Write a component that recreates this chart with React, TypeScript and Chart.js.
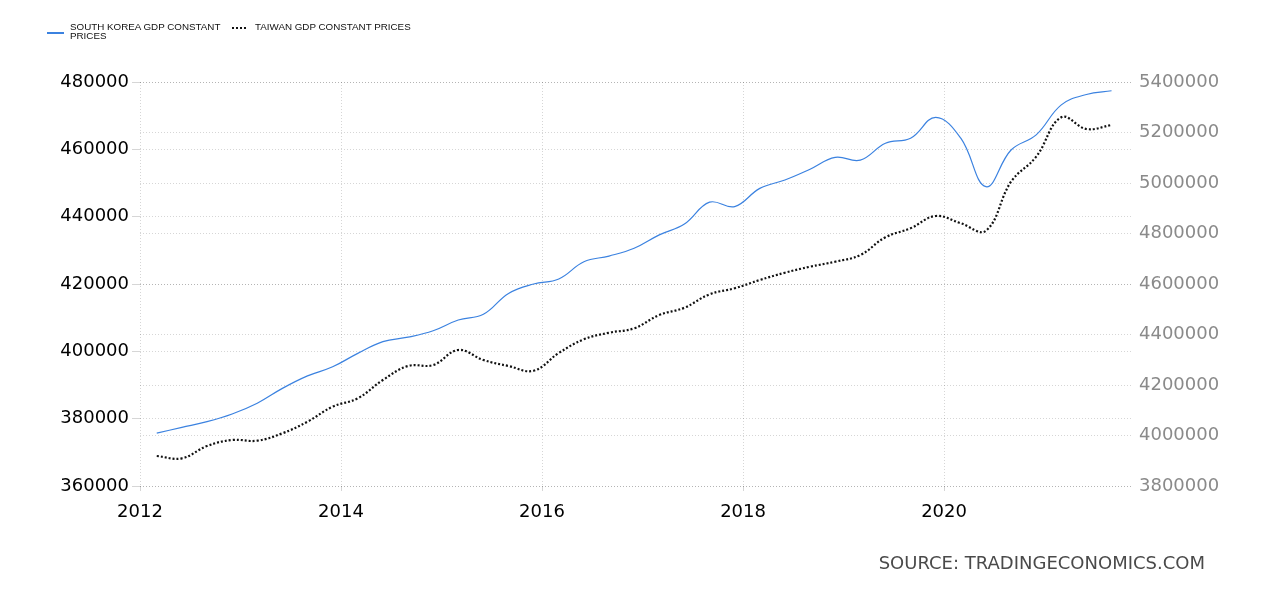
import React, { useEffect, useRef } from 'react';
import { Chart, registerables } from 'chart.js';

Chart.register(...registerables);

// quarterly observations, dated on the first day of the quarter's last month
const quarters = [
  '2012-03', '2012-06', '2012-09', '2012-12',
  '2013-03', '2013-06', '2013-09', '2013-12',
  '2014-03', '2014-06', '2014-09', '2014-12',
  '2015-03', '2015-06', '2015-09', '2015-12',
  '2016-03', '2016-06', '2016-09', '2016-12',
  '2017-03', '2017-06', '2017-09', '2017-12',
  '2018-03', '2018-06', '2018-09', '2018-12',
  '2019-03', '2019-06', '2019-09', '2019-12',
  '2020-03', '2020-06', '2020-09', '2020-12',
  '2021-03', '2021-06', '2021-09',
];

const koreaGdp = [
  375700, 377400, 379100, 381400,
  384600, 389000, 392700, 395400,
  399400, 402900, 404200, 406100,
  409300, 411000, 417200, 420000,
  421500, 426600, 428300, 430600,
  434600, 437800, 444300, 443000,
  448400, 450900, 454100, 457600,
  456800, 461800, 463300, 469500,
  463300, 448900, 459800, 464300,
  473200, 476300, 477400,
];

const taiwanGdp = [
  3918800, 3909700, 3958400, 3982200,
  3979400, 4008700, 4054700, 4114100,
  4147300, 4219800, 4275200, 4279200,
  4338600, 4299000, 4275200, 4256600,
  4326700, 4381000, 4407100, 4424500,
  4477200, 4506100, 4559200, 4583000,
  4615800, 4644700, 4668500, 4688300,
  4714800, 4785000, 4820600, 4869300,
  4840400, 4811100, 5005100, 5104200,
  5260200, 5213900, 5229700,
];

const yearTicks = [2012, 2014, 2016, 2018, 2020];

const toYear = (q: string) => {
  const [y, m] = q.split('-').map(Number);
  return y + (m - 1) / 12;
};

const FONT = "'DejaVu Sans', Verdana, sans-serif";
const GRID = 'rgba(0,0,0,0.16)';

const App: React.FC = () => {
  const canvasRef = useRef<HTMLCanvasElement | null>(null);

  useEffect(() => {
    document.body.style.margin = '0';
    const ctx = canvasRef.current?.getContext('2d');
    if (!ctx) return;

    const chart = new Chart(ctx, {
      type: 'line',
      data: {
        datasets: [
          {
            label: 'South Korea GDP Constant Prices',
            data: quarters.map((q, i) => ({ x: toYear(q), y: koreaGdp[i] })),
            borderColor: '#3b82e0',
            borderWidth: 1.2,
            pointRadius: 0,
            tension: 0.4,
            yAxisID: 'y',
          },
          {
            label: 'Taiwan GDP Constant Prices',
            data: quarters.map((q, i) => ({ x: toYear(q), y: taiwanGdp[i] })),
            borderColor: '#111',
            borderWidth: 2.2,
            borderDash: [2, 2],
            pointRadius: 0,
            tension: 0.4,
            yAxisID: 'y1',
          },
        ],
      },
      options: {
        responsive: false,
        animation: false,
        layout: { padding: { top: 82, left: 0, right: 0, bottom: 0 } },
        plugins: { legend: { display: false }, tooltip: { enabled: false } },
        scales: {
          x: {
            type: 'linear',
            min: 2012,
            max: 2021.88,
            afterBuildTicks: (s: any) => {
              s.ticks = yearTicks.map((v) => ({ value: v }));
            },
            afterFit: (s: any) => {
              s.height = 110;
            },
            ticks: {
              includeBounds: false,
              padding: 11,
              color: '#000',
              font: { family: FONT, size: 18 },
              callback: (v: any) => String(v),
            },
            grid: { color: GRID, tickLength: 5, tickColor: GRID },
            border: { display: false, dash: [1, 2] },
          },
          y: {
            position: 'left',
            min: 360000,
            max: 480000,
            afterFit: (s: any) => {
              s.width = 140;
            },
            ticks: {
              stepSize: 20000,
              padding: 3,
              color: '#000',
              font: { family: FONT, size: 18 },
              callback: (v: any) => String(v),
            },
            grid: { color: GRID, tickLength: 8, tickColor: GRID },
            border: { display: false, dash: [1, 2] },
          },
          y1: {
            position: 'right',
            min: 3800000,
            max: 5400000,
            afterFit: (s: any) => {
              s.width = 147;
            },
            ticks: {
              stepSize: 200000,
              padding: 6,
              color: '#8a8a8a',
              font: { family: FONT, size: 18 },
              callback: (v: any) => String(v),
            },
            grid: { color: GRID, drawTicks: false },
            border: { display: false, dash: [1, 2] },
          },
        },
      },
    });

    return () => {
      chart.destroy();
    };
  }, []);

  const legendText: React.CSSProperties = {
    fontFamily: "'Liberation Sans', Arial, sans-serif",
    fontSize: 9.8,
    lineHeight: '9px',
    color: '#111',
  };

  return (
    <div style={{ position: 'relative', width: 1280, height: 596, background: '#fff' }}>
      <canvas ref={canvasRef} width={1280} height={596} style={{ display: 'block' }} />
      <div style={{ position: 'absolute', left: 47, top: 22, display: 'flex', alignItems: 'flex-start' }}>
        <span style={{ width: 17, borderTop: '2px solid #3b82e0', marginTop: 10, marginRight: 6 }} />
        <span style={{ ...legendText, width: 152 }}>SOUTH KOREA GDP CONSTANT PRICES</span>
        <span style={{ width: 14, borderTop: '2px dotted #111', marginTop: 5, marginLeft: 10, marginRight: 9 }} />
        <span style={{ ...legendText, whiteSpace: 'nowrap' }}>TAIWAN GDP CONSTANT PRICES</span>
      </div>
      <div
        style={{
          position: 'absolute',
          right: 75,
          top: 552,
          fontFamily: FONT,
          fontSize: 18,
          lineHeight: '22px',
          color: '#4a4a4a',
        }}
      >
        SOURCE: TRADINGECONOMICS.COM
      </div>
    </div>
  );
};

export default App;
